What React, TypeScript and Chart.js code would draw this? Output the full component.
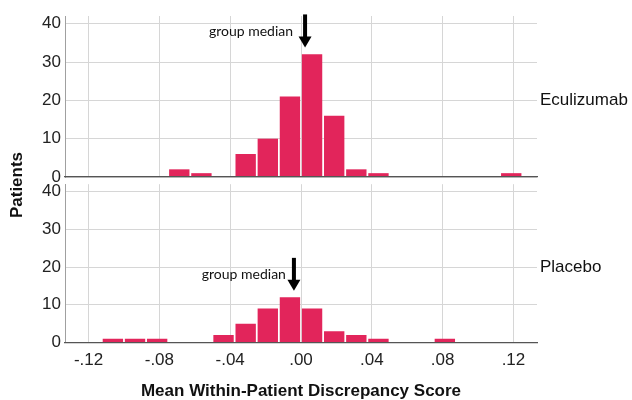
import React, { useEffect, useRef } from 'react';
import { Chart, registerables } from 'chart.js';

Chart.register(...registerables);

// Histogram bins (bin centres, width 0.0125)
const binCenters = [
  -0.10625, -0.09375, -0.08125, -0.06875, -0.05625, -0.04375, -0.03125, -0.01875, -0.00625,
  0.00625, 0.01875, 0.03125, 0.04375, 0.05625, 0.06875, 0.08125, 0.09375, 0.10625, 0.11875,
];
const eculizumabCounts = [0, 0, 0, 2, 1, 0, 6, 10, 21, 32, 16, 2, 1, 0, 0, 0, 0, 0, 1];
const placeboCounts = [1, 1, 1, 0, 0, 2, 5, 9, 12, 9, 3, 2, 1, 0, 0, 1, 0, 0, 0];

const panelNames = ['Eculizumab', 'Placebo'];
const medianValues = [0.0023, -0.004];
const arrowTipCounts = [33.8, 13.7];
const medianLabel = 'group median';

const xTickValues = [-0.12, -0.08, -0.04, 0, 0.04, 0.08, 0.12];
const xTickLabels = ['-.12', '-.08', '-.04', '.00', '.04', '.08', '.12'];
const yTickValues = [0, 10, 20, 30, 40];
const yTickLabels = ['0', '10', '20', '30', '40'];

const xTitle = 'Mean Within-Patient Discrepancy Score';
const yTitle = 'Patients';

const X_MIN = -0.1333;
const X_MAX = 0.1333;
const Y_MAX = 42;

const SANS = '"Liberation Sans", Arial, sans-serif';
const BAR_COLOR = '#E2255B';
const GRID_COLOR = '#D6D6D6';

function lookup(values: number[], labels: string[], v: number) {
  const i = values.findIndex((t) => Math.abs(t - v) < 1e-9);
  return i >= 0 ? labels[i] : '';
}

function makePanel(canvas: HTMLCanvasElement, counts: number[], idx: number, isBottom: boolean) {
  const textGap = isBottom ? 8 : 12;
  const annot = {
    id: 'annot' + idx,
    afterDraw(chart: any) {
      const { ctx, scales, chartArea } = chart;
      const x = scales.x;
      const y = scales.y;
      ctx.save();
      // panel label
      ctx.font = `17px ${SANS}`;
      ctx.fillStyle = '#111';
      ctx.textAlign = 'left';
      ctx.textBaseline = 'middle';
      ctx.fillText(panelNames[idx], chartArea.right + 3, y.getPixelForValue(20));
      // arrow
      const ax = x.getPixelForValue(medianValues[idx]);
      const tipY = y.getPixelForValue(arrowTipCounts[idx]);
      const len = 33;
      const headLen = 11;
      const headHalf = 6.5;
      ctx.fillStyle = '#000';
      ctx.fillRect(ax - 2, tipY - len, 4, len - headLen + 1);
      ctx.beginPath();
      ctx.moveTo(ax - headHalf, tipY - headLen);
      ctx.lineTo(ax + headHalf, tipY - headLen);
      ctx.lineTo(ax, tipY);
      ctx.closePath();
      ctx.fill();
      // median text
      ctx.font = '14px Lato, "Open Sans", sans-serif';
      ctx.fillStyle = '#111';
      ctx.textAlign = 'right';
      ctx.textBaseline = 'middle';
      ctx.fillText(medianLabel, ax - textGap, tipY - 16);
      if (!isBottom) {
        ctx.save();
        ctx.translate(17, 185);
        ctx.rotate(-Math.PI / 2);
        ctx.font = `bold 17px ${SANS}`;
        ctx.textAlign = 'center';
        ctx.textBaseline = 'middle';
        ctx.fillStyle = '#111';
        ctx.fillText(yTitle, 0, 0);
        ctx.restore();
      }
      ctx.restore();
    },
  };

  return new Chart(canvas, {
    type: 'bar',
    data: {
      datasets: [
        {
          label: panelNames[idx],
          data: binCenters.map((c, i) => ({ x: c, y: counts[i] })),
          backgroundColor: BAR_COLOR,
          borderWidth: 0,
          barPercentage: 0.92,
          categoryPercentage: 1,
        },
      ],
    },
    options: {
      animation: false,
      responsive: false,
      maintainAspectRatio: false,
      devicePixelRatio: 1,
      layout: {
        padding: isBottom
          ? { top: 11.5, bottom: 0, left: 0, right: 95 }
          : { top: 16, bottom: 53, left: 0, right: 95 },
      },
      plugins: {
        legend: { display: false },
        tooltip: { enabled: false },
      },
      scales: {
        x: {
          type: 'linear',
          min: X_MIN,
          max: X_MAX,
          offset: false,
          afterBuildTicks: (s: any) => {
            s.ticks = xTickValues.map((v) => ({ value: v }));
          },
          afterFit: (s: any) => {
            s.height = isBottom ? 57.5 : 0;
          },
          ticks: {
            display: isBottom,
            autoSkip: false,
            maxRotation: 0,
            padding: 8,
            color: '#222',
            font: { family: SANS, size: 17 },
            callback: (v: any) => lookup(xTickValues, xTickLabels, Number(v)),
          },
          grid: { color: GRID_COLOR, drawTicks: false, lineWidth: 1, offset: false },
          border: { color: '#555', width: 1.2, z: 1 },
          title: {
            display: isBottom,
            text: xTitle,
            color: '#111',
            padding: 0,
            font: { family: SANS, size: 17, weight: 'bold', lineHeight: 1 },
          },
        },
        y: {
          type: 'linear',
          min: 0,
          max: Y_MAX,
          afterBuildTicks: (s: any) => {
            s.ticks = yTickValues.map((v) => ({ value: v }));
          },
          afterFit: (s: any) => {
            s.width = 65;
          },
          ticks: {
            padding: 4,
            color: '#222',
            font: { family: SANS, size: 17 },
            callback: (v: any) => lookup(yTickValues, yTickLabels, Number(v)),
          },
          grid: { color: GRID_COLOR, drawTicks: false, lineWidth: 1 },
          border: { color: '#A0A0A0', width: 1 },
        },
      },
    } as any,
    plugins: [annot],
  });
}

export default function App() {
  const topRef = useRef<HTMLCanvasElement>(null);
  const botRef = useRef<HTMLCanvasElement>(null);

  useEffect(() => {
    const c1 = makePanel(topRef.current!, eculizumabCounts, 0, false);
    const c2 = makePanel(botRef.current!, placeboCounts, 1, true);
    return () => {
      c1.destroy();
      c2.destroy();
    };
  }, []);

  return (
    <div style={{ position: 'fixed', left: 0, top: 0, width: 632, height: 400, background: '#fff' }}>
      <canvas ref={topRef} width={632} height={230} style={{ position: 'absolute', left: 0, top: 0, width: 632, height: 230 }} />
      <canvas ref={botRef} width={632} height={230} style={{ position: 'absolute', left: 0, top: 170, width: 632, height: 230 }} />
    </div>
  );
}
